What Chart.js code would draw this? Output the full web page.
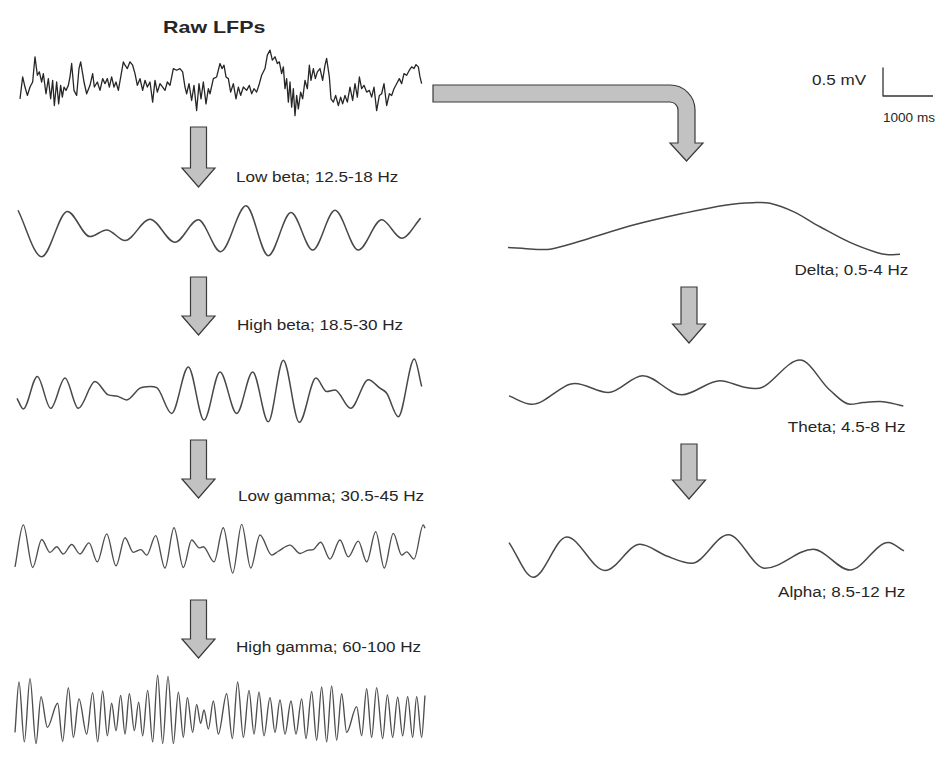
<!DOCTYPE html>
<html>
<head>
<meta charset="utf-8">
<script src="https://cdn.jsdelivr.net/npm/chart.js@4/dist/chart.umd.min.js"></script>
<style>
  html, body { margin: 0; padding: 0; background: #fff; }
  #stage { position: relative; width: 950px; height: 758px; overflow: hidden; background: #fff; }
  .trace { position: absolute; }
  .lbl {
    position: absolute; white-space: nowrap; color: #262626;
    font-family: "Liberation Sans", Arial, Helvetica, sans-serif;
    font-size: 14px; line-height: 16px;
    transform: scaleX(1.22); transform-origin: left center;
  }
  .lbl.r { transform-origin: right center; }
  .title { font-weight: bold; font-size: 17px; line-height: 20px; transform: scaleX(1.26); }
  .small { font-size: 12px; transform: scaleX(1.13); }
  svg { position: absolute; left: 0; top: 0; }
</style>
</head>
<body>
<div id="stage">
  <svg width="950" height="758" id="arrows"></svg>

  <div class="lbl title" style="left:163px;top:18px">Raw LFPs</div>
  <div class="lbl" style="left:236px;top:169px">Low beta; 12.5-18 Hz</div>
  <div class="lbl" style="left:237px;top:317px">High beta; 18.5-30 Hz</div>
  <div class="lbl" style="left:238px;top:488px">Low gamma; 30.5-45 Hz</div>
  <div class="lbl" style="left:236px;top:639px">High gamma; 60-100 Hz</div>
  <div class="lbl r" style="right:42px;top:262px">Delta; 0.5-4 Hz</div>
  <div class="lbl r" style="right:45px;top:419px">Theta; 4.5-8 Hz</div>
  <div class="lbl r" style="right:45px;top:584px">Alpha; 8.5-12 Hz</div>
  <div class="lbl" style="left:812px;top:72px">0.5 mV</div>
  <div class="lbl small" style="left:883px;top:110px">1000 ms</div>
</div>

<script>
// Time axis in ms, amplitude in mV (shared scale for every trace)
const MS_PER_PX = 20;
const PX_PER_MV = 56;

// Raw local field potential
const rawTimes = [
  0, 53, 100, 147, 200, 253, 300, 347, 387, 433,
  467, 520, 567, 613, 653, 687, 733, 773, 813, 847,
  880, 920, 967, 1000, 1033, 1080, 1133, 1180, 1213, 1253,
  1280, 1333, 1400, 1453, 1487, 1547, 1600, 1653, 1700, 1747,
  1787, 1833, 1880, 1920, 1967, 2020, 2067, 2100, 2147, 2200,
  2253, 2300, 2347, 2400, 2453, 2500, 2547, 2600, 2653, 2700,
  2747, 2800, 2853, 2900, 2947, 3000, 3067, 3133, 3200, 3253,
  3300, 3333, 3380, 3433, 3480, 3533, 3580, 3620, 3667, 3720,
  3767, 3800, 3867, 3933, 4000, 4040, 4080, 4120, 4167, 4213,
  4267, 4320, 4367, 4413, 4467, 4533, 4587, 4633, 4680, 4733,
  4787, 4833, 4900, 4947, 5000, 5047, 5100, 5147, 5187, 5233,
  5267, 5300, 5333, 5367, 5400, 5433, 5467, 5500, 5533, 5567,
  5613, 5653, 5700, 5747, 5787, 5820, 5867, 5907, 5947, 6000,
  6053, 6100, 6133, 6187, 6220, 6267, 6313, 6367, 6413, 6453,
  6500, 6547, 6600, 6653, 6700, 6747, 6787, 6833, 6880, 6933,
  6987, 7033, 7080, 7133, 7187, 7233, 7280, 7333, 7387, 7433,
  7480, 7533, 7587, 7633, 7680, 7733, 7787, 7833, 7880, 7920,
  7967, 8000, 8033
];
const rawValues = [
  -0.30, 0.09, -0.09, -0.24, -0.09, 0.00, 0.45, 0.12, 0.18, 0.00,
  0.15, -0.21, 0.06, -0.30, 0.03, -0.42, 0.00, -0.39, -0.06, -0.27,
  -0.09, -0.15, -0.06, 0.09, 0.33, -0.15, -0.24, 0.24, 0.36, 0.15,
  0.00, -0.21, -0.06, 0.15, -0.09, 0.00, -0.15, 0.06, -0.03, 0.06,
  -0.09, 0.09, -0.09, 0.00, -0.15, 0.12, 0.36, 0.30, 0.24, 0.36,
  0.30, 0.15, -0.06, 0.06, -0.15, 0.03, -0.09, 0.00, -0.36, 0.03,
  -0.18, -0.03, -0.09, -0.15, 0.00, -0.06, 0.24, 0.21, 0.24, 0.18,
  -0.09, -0.21, -0.03, -0.33, -0.06, -0.51, -0.03, -0.30, 0.00, -0.39,
  -0.12, -0.21, 0.06, 0.09, 0.33, 0.24, 0.30, 0.09, 0.06, -0.18,
  -0.03, -0.30, -0.09, -0.24, -0.09, -0.15, -0.06, -0.21, -0.12, -0.18,
  -0.03, 0.12, 0.24, 0.48, 0.57, 0.39, 0.45, 0.33, 0.36, 0.15,
  0.27, -0.12, 0.06, -0.36, 0.00, -0.45, -0.12, -0.60, -0.24, -0.48,
  -0.18, -0.30, 0.03, -0.12, 0.30, 0.03, 0.24, 0.06, 0.18, 0.24,
  0.03, 0.30, 0.42, 0.09, -0.30, -0.36, -0.24, -0.42, -0.27, -0.39,
  -0.24, -0.36, -0.09, -0.33, -0.03, -0.27, 0.09, -0.12, -0.06, -0.18,
  -0.15, -0.27, -0.09, -0.51, -0.24, -0.21, -0.03, -0.42, -0.21, -0.24,
  -0.12, -0.03, 0.06, -0.03, 0.15, 0.12, 0.21, 0.27, 0.24, 0.31,
  0.27, 0.09, -0.03
];

// Low beta band, 12.5-18 Hz
const lowBetaTimes = [0, 474, 986, 1440, 1774, 2140, 2640, 3140, 3606, 4054, 4560, 5006, 5460, 5894, 6340, 6806, 7274, 7674, 8054];
const lowBetaValues = [0.37, -0.46, 0.35, -0.10, 0.02, -0.17, 0.21, -0.20, 0.20, -0.37, 0.45, -0.44, 0.33, -0.34, 0.37, -0.34, 0.20, -0.13, 0.23];

// High beta band, 18.5-30 Hz
const highBetaTimes = [0, 126, 406, 674, 960, 1226, 1560, 1826, 1994, 2194, 2460, 2660, 2794, 3094, 3426, 3740, 4060, 4394, 4714, 5026, 5326, 5646, 5980, 6194, 6360, 6674, 7026, 7260, 7394, 7626, 7946, 8094];
const highBetaValues = [-0.13, -0.32, 0.26, -0.31, 0.23, -0.31, 0.17, -0.07, -0.09, -0.16, 0.05, 0.08, 0.06, -0.40, 0.43, -0.52, 0.34, -0.40, 0.34, -0.55, 0.55, -0.56, 0.23, -0.01, 0.02, -0.31, 0.20, 0.05, -0.04, -0.46, 0.57, 0.08];

// Low gamma band, 30.5-45 Hz
const lowGammaTimes = [
  0, 166, 354, 534, 700, 834, 966, 1134, 1300, 1480,
  1646, 1834, 2020, 2200, 2366, 2520, 2634, 2814, 3000, 3180,
  3366, 3534, 3686, 3766, 3980, 4166, 4354, 4534, 4714, 4900,
  5134, 5266, 5500, 5700, 5866, 5966, 6114, 6300, 6500, 6666,
  6866, 7034, 7214, 7386, 7566, 7734, 7834, 7980, 8166, 8200
];
const lowGammaValues = [
  -0.32, 0.43, -0.33, 0.17, -0.06, 0.04, -0.09, 0.08, -0.09, 0.11,
  -0.23, 0.27, -0.30, 0.20, -0.06, -0.01, -0.11, 0.24, -0.34, 0.38,
  -0.33, 0.16, 0.02, 0.04, -0.23, 0.38, -0.43, 0.44, -0.34, 0.25,
  -0.11, -0.04, 0.07, -0.08, -0.02, -0.01, 0.12, -0.18, 0.16, -0.14,
  0.14, -0.23, 0.31, -0.34, 0.28, -0.11, -0.05, -0.18, 0.43, 0.37
];

// High gamma band, 60-100 Hz
const highGammaTimes = [
  0, 80, 187, 300, 420, 520, 647, 853, 953, 1067,
  1167, 1280, 1433, 1553, 1653, 1753, 1847, 1933, 2020, 2113,
  2200, 2287, 2387, 2473, 2553, 2653, 2753, 2853, 2953, 3060,
  3167, 3267, 3367, 3447, 3553, 3633, 3713, 3780, 3867, 3967,
  4067, 4233, 4347, 4453, 4567, 4680, 4780, 4880, 4980, 5100,
  5200, 5300, 5400, 5520, 5620, 5733, 5820, 5933, 6033, 6133,
  6233, 6333, 6433, 6533, 6633, 6833, 6933, 7033, 7133, 7233,
  7353, 7447, 7553, 7653, 7753, 7853, 7953, 8033, 8133, 8200
];
const highGammaValues = [
  -0.40, 0.50, -0.57, 0.56, -0.60, 0.24, -0.31, 0.12, -0.56, 0.40,
  -0.49, 0.20, -0.43, 0.31, -0.57, 0.34, -0.46, 0.12, -0.37, 0.26,
  -0.43, 0.29, -0.37, 0.14, -0.46, 0.35, -0.57, 0.62, -0.60, 0.60,
  -0.60, 0.32, -0.49, 0.22, -0.40, 0.10, -0.24, 0.00, -0.34, 0.16,
  -0.43, 0.29, -0.51, 0.50, -0.49, 0.35, -0.43, 0.32, -0.46, 0.22,
  -0.40, 0.18, -0.43, 0.16, -0.43, 0.20, -0.51, 0.33, -0.54, 0.41,
  -0.57, 0.43, -0.54, 0.29, -0.40, 0.06, -0.46, 0.38, -0.49, 0.40,
  -0.51, 0.27, -0.49, 0.23, -0.46, 0.24, -0.49, 0.24, -0.49, 0.26
];

// Delta band, 0.5-4 Hz
const deltaTimes = [0, 507, 840, 1507, 2507, 3507, 4373, 4907, 5240, 5707, 6240, 6840, 7373, 7607, 7840];
const deltaValues = [-0.33, -0.36, -0.36, -0.20, 0.07, 0.28, 0.43, 0.47, 0.46, 0.31, 0.04, -0.24, -0.42, -0.46, -0.45];

// Theta band, 4.5-8 Hz
const thetaTimes = [0, 454, 1320, 1986, 2674, 3454, 4220, 4686, 4954, 5820, 6420, 6820, 7086, 7420, 7886];
const thetaValues = [-0.23, -0.38, -0.01, -0.17, 0.13, -0.21, 0.04, -0.07, -0.10, 0.41, -0.13, -0.38, -0.35, -0.33, -0.41];

// Alpha band, 8.5-12 Hz
const alphaTimes = [0, 486, 1154, 1920, 2620, 3154, 3654, 4386, 5120, 6086, 6820, 7586, 7900];
const alphaValues = [0.24, -0.38, 0.34, -0.26, 0.21, 0.00, -0.13, 0.38, -0.22, 0.12, -0.25, 0.24, 0.09];

// Calibration bar: 1000 ms by 0.5 mV
const scaleBarTimes = [0, 0, 1000];
const scaleBarValues = [0.5, 0, 0];

const stage = document.getElementById('stage');

// One small chart per trace; frame gives the pixel origin (t = 0, v = 0),
// the drawn width and the half height of the canvas.
function drawTrace(times, values, frame, style) {
  const pad = 8;
  const w = frame.w + 2 * pad;
  const h = frame.half * 2;
  const box = document.createElement('div');
  box.className = 'trace';
  box.style.left = (frame.x0 - pad) + 'px';
  box.style.top = (frame.y0 - frame.half) + 'px';
  box.style.width = w + 'px';
  box.style.height = h + 'px';
  const cv = document.createElement('canvas');
  cv.width = w; cv.height = h;
  cv.style.width = w + 'px'; cv.style.height = h + 'px';
  box.appendChild(cv);
  stage.appendChild(box);

  new Chart(cv, {
    type: 'line',
    data: {
      datasets: [{
        data: times.map((t, i) => ({ x: t, y: values[i] })),
        borderColor: style.color,
        borderWidth: style.width,
        pointRadius: 0,
        fill: false,
        tension: style.tension,
        cubicInterpolationMode: style.mode || 'default',
        borderJoinStyle: 'round',
        borderCapStyle: 'butt',
        clip: false
      }]
    },
    options: {
      responsive: false,
      animation: false,
      events: [],
      layout: { padding: 0 },
      plugins: { legend: { display: false }, tooltip: { enabled: false } },
      scales: {
        x: { type: 'linear', display: false,
             min: -pad * MS_PER_PX, max: (frame.w + pad) * MS_PER_PX },
        y: { type: 'linear', display: false,
             min: -frame.half / PX_PER_MV, max: frame.half / PX_PER_MV }
      }
    }
  });
}

const rawStyle   = { color: '#262626', width: 1.3, tension: 0 };
const bandStyle  = { color: '#484848', width: 1.5, tension: 0.4, mode: 'monotone' };
const fastStyle  = { color: '#4e4e4e', width: 1.35, tension: 0.4, mode: 'monotone' };
const slowStyle  = { color: '#484848', width: 1.5, tension: 0.35 };

drawTrace(rawTimes, rawValues,             { x0: 20,  y0: 82,    w: 410, half: 45 }, rawStyle);
drawTrace(lowBetaTimes, lowBetaValues,     { x0: 18,  y0: 231,   w: 410, half: 40 }, bandStyle);
drawTrace(highBetaTimes, highBetaValues,   { x0: 17,  y0: 391,   w: 410, half: 45 }, bandStyle);
drawTrace(lowGammaTimes, lowGammaValues,   { x0: 15,  y0: 549,   w: 415, half: 40 }, fastStyle);
drawTrace(highGammaTimes, highGammaValues, { x0: 15,  y0: 709.5, w: 415, half: 45 }, fastStyle);
drawTrace(deltaTimes, deltaValues,         { x0: 508, y0: 229,   w: 400, half: 40 }, slowStyle);
drawTrace(thetaTimes, thetaValues,         { x0: 509, y0: 383,   w: 400, half: 40 }, bandStyle);
drawTrace(alphaTimes, alphaValues,         { x0: 509, y0: 556,   w: 400, half: 40 }, bandStyle);
drawTrace(scaleBarTimes, scaleBarValues,   { x0: 883, y0: 96,    w: 55,  half: 36 }, { color: '#333', width: 1.3, tension: 0 });

// Flow arrows
const svg = document.getElementById('arrows');
function addPath(d) {
  const p = document.createElementNS('http://www.w3.org/2000/svg', 'path');
  p.setAttribute('d', d);
  p.setAttribute('fill', '#c2c2c2');
  p.setAttribute('stroke', '#3a3a3a');
  p.setAttribute('stroke-width', '1.2');
  p.setAttribute('stroke-linejoin', 'miter');
  svg.appendChild(p);
}
function downArrow(cx, top, tip) {
  const sw = 8, hw = 16.5, hh = 19;
  addPath(`M${cx - sw},${top} L${cx + sw},${top} L${cx + sw},${tip - hh} L${cx + hw},${tip - hh} ` +
          `L${cx},${tip} L${cx - hw},${tip - hh} L${cx - sw},${tip - hh} Z`);
}
[[127, 187], [277, 335], [440, 498], [600, 658]].forEach(a => downArrow(198.5, a[0], a[1]));
[[287, 343], [444, 499]].forEach(a => downArrow(689, a[0], a[1]));

// Bent arrow from the raw trace to the slow bands
addPath('M433,85 L670,85 A25,25 0 0 1 695,110 L695,143 L703,143 L686.5,161 L670,143 L678,143 ' +
        'L678,110 A8,8 0 0 0 670,102 L433,102 Z');
</script>
</body>
</html>
